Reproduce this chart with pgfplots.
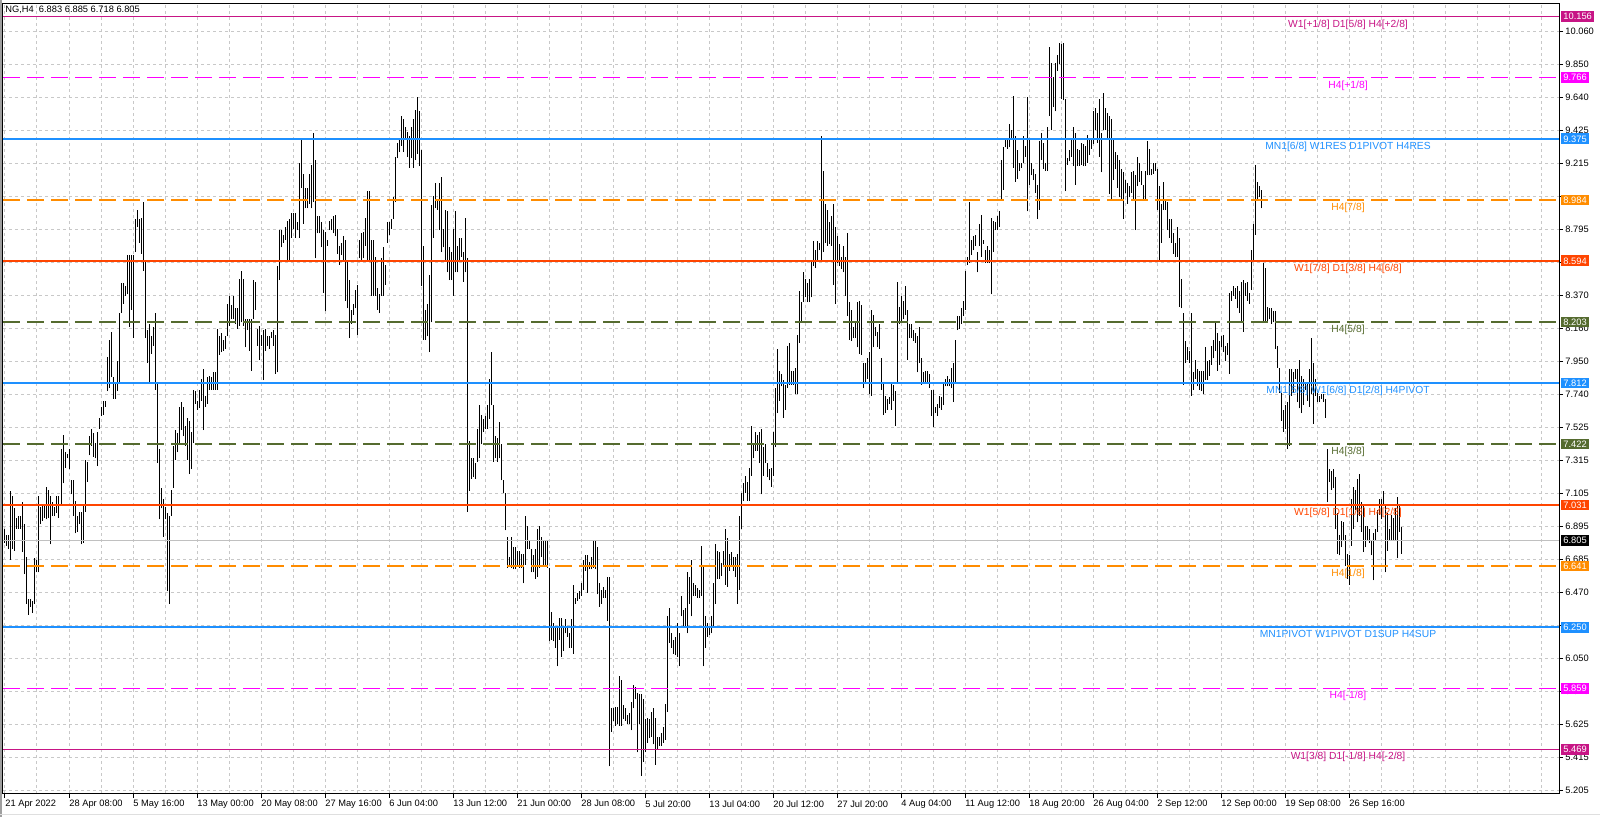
\documentclass[border=0pt]{standalone}
\usepackage{fontspec}
\setmainfont{Liberation Sans}
\usepackage{pgfplots}
\usepackage{pgfplotstable}
\pgfplotsset{compat=1.18}

\definecolor{mvred}{RGB}{199,21,133}
\definecolor{mag}{RGB}{255,0,255}
\definecolor{dblue}{RGB}{30,144,255}
\definecolor{dorange}{RGB}{255,140,0}
\definecolor{ored}{RGB}{255,69,0}
\definecolor{olive}{RGB}{85,107,47}
\definecolor{silv}{RGB}{192,192,192}
\definecolor{gridc}{RGB}{200,200,200}

\newcommand{\tf}{\fontsize{4.65pt}{5pt}\selectfont}
\newcommand{\lf}{\fontsize{5.15pt}{6pt}\selectfont}

% NG H4 bars: x position (px), low, high
\pgfplotstableread{
x lo hi
5 6.79 6.88
7 6.77 6.84
9 6.75 6.84
11 6.68 7.12
13 6.75 7.09
15 6.74 7.01
17 6.88 6.95
19 6.88 6.96
21 6.88 6.96
23 6.73 7.05
25 6.59 6.91
27 6.40 6.70
29 6.33 6.43
31 6.38 6.43
33 6.34 6.42
35 6.40 6.69
37 6.60 6.68
39 6.60 7.09
41 6.91 7.02
43 6.93 7.04
45 6.95 7.04
47 6.94 7.15
49 6.95 7.13
51 6.78 7.09
53 6.96 7.05
55 6.96 7.02
57 6.98 7.09
59 6.95 7.09
61 7.04 7.39
63 7.17 7.48
65 7.27 7.37
67 7.33 7.36
69 7.26 7.39
71 7.10 7.19
73 6.96 7.19
75 6.85 7.06
77 6.86 6.96
79 6.91 6.99
81 6.78 6.99
83 6.79 7.04
85 6.99 7.32
87 7.18 7.31
89 7.35 7.47
91 7.41 7.52
93 7.34 7.49
95 7.33 7.43
97 7.28 7.50
99 7.52 7.59
101 7.60 7.66
103 7.61 7.70
105 7.66 7.70
107 7.76 7.98
109 7.78 8.09
111 7.85 8.14
113 7.71 7.85
115 7.71 7.81
117 7.76 7.95
119 7.81 8.26
121 8.26 8.45
123 8.32 8.45
125 8.37 8.43
127 8.38 8.63
129 8.17 8.63
131 8.28 8.63
133 8.10 8.63
135 8.65 8.86
137 8.81 8.92
139 8.71 8.86
141 8.64 8.87
143 8.53 8.97
145 8.10 8.60
147 7.94 8.15
149 7.81 8.19
151 8.00 8.11
153 8.05 8.17
155 7.77 8.26
157 7.30 7.81
159 6.94 7.39
161 7.01 7.14
163 6.83 7.07
165 6.94 7.02
167 6.48 6.98
169 6.40 6.96
171 6.96 7.13
173 7.14 7.41
175 7.32 7.51
177 7.37 7.49
179 7.43 7.66
181 7.51 7.69
183 7.47 7.66
185 7.41 7.54
187 7.32 7.59
189 7.23 7.57
191 7.26 7.50
193 7.43 7.77
195 7.68 7.76
197 7.64 7.70
199 7.65 7.77
201 7.70 7.84
203 7.51 7.90
205 7.66 7.73
207 7.68 7.85
209 7.77 7.86
211 7.77 7.85
213 7.77 7.88
215 7.77 7.88
217 7.77 8.16
219 7.99 8.11
221 8.01 8.13
223 8.02 8.09
225 8.03 8.11
227 8.11 8.32
229 8.18 8.37
231 8.22 8.31
233 8.22 8.37
235 8.19 8.29
237 8.16 8.29
239 8.18 8.48
241 8.20 8.53
243 8.18 8.48
245 8.04 8.22
247 8.15 8.22
249 8.02 8.22
251 7.89 8.22
253 8.22 8.47
255 8.28 8.46
257 8.05 8.16
259 7.96 8.18
261 8.05 8.12
263 7.83 8.15
265 8.02 8.16
267 8.05 8.11
269 8.03 8.11
271 8.10 8.14
273 8.05 8.15
275 7.87 8.12
277 7.88 8.56
279 8.47 8.79
281 8.68 8.79
283 8.71 8.76
285 8.73 8.81
287 8.60 8.85
289 8.60 8.86
291 8.74 8.90
293 8.80 8.90
295 8.74 8.90
297 8.79 8.84
299 8.74 9.22
301 9.06 9.37
303 8.83 9.15
305 8.93 9.06
307 8.93 9.06
309 8.96 9.15
311 8.93 9.21
313 8.97 9.41
315 8.61 9.24
317 8.77 8.88
319 8.77 8.88
321 8.68 8.84
323 8.39 8.79
325 8.27 8.78
327 8.69 8.73
329 8.79 8.85
331 8.79 8.86
333 8.77 8.88
335 8.75 8.89
337 8.64 8.80
339 8.57 8.69
341 8.63 8.71
343 8.59 8.75
345 8.34 8.73
347 8.29 8.59
349 8.10 8.47
351 8.19 8.28
353 8.25 8.32
355 8.29 8.41
357 8.12 8.44
359 8.61 8.73
361 8.60 8.77
363 8.61 8.78
365 8.69 8.87
367 8.60 9.04
369 8.60 9.04
371 8.37 8.73
373 8.37 8.73
375 8.37 8.62
377 8.28 8.42
379 8.26 8.38
381 8.37 8.61
383 8.37 8.68
385 8.44 8.57
387 8.71 8.84
389 8.76 8.84
391 8.80 8.86
393 8.86 9.00
395 8.97 9.26
397 9.25 9.35
399 9.29 9.38
401 9.33 9.52
403 9.29 9.50
405 9.37 9.45
407 9.26 9.42
409 9.19 9.39
411 9.25 9.45
413 9.19 9.50
415 9.24 9.56
417 9.28 9.64
419 9.20 9.55
421 8.43 9.30
423 8.09 8.69
425 8.09 8.28
427 8.11 8.32
429 8.01 8.50
431 8.20 8.95
433 8.74 9.01
435 8.93 9.09
437 8.92 8.98
439 8.79 9.09
441 8.65 9.13
443 8.68 8.80
445 8.60 8.92
447 8.52 8.91
449 8.47 8.68
451 8.47 8.65
453 8.37 8.80
455 8.52 8.91
457 8.52 8.69
459 8.60 8.74
461 8.62 8.74
463 8.46 8.65
465 8.52 8.87
467 6.99 8.61
469 7.12 7.44
471 7.20 7.33
473 7.21 7.33
475 7.20 7.30
477 7.31 7.52
479 7.33 7.67
481 7.42 7.61
483 7.50 7.58
485 7.52 7.60
487 7.52 7.67
489 7.58 7.84
491 7.67 8.01
493 7.31 7.67
495 7.33 7.47
497 7.31 7.46
499 7.33 7.56
501 7.19 7.42
503 7.11 7.19
505 6.87 7.11
507 6.63 6.83
509 6.65 6.70
511 6.63 6.83
513 6.62 6.76
515 6.62 6.76
517 6.65 6.74
519 6.63 6.74
521 6.63 6.72
523 6.53 6.72
525 6.65 6.96
527 6.75 6.90
529 6.75 6.81
531 6.60 6.75
533 6.60 6.71
535 6.56 6.75
537 6.57 6.88
539 6.63 6.90
541 6.70 6.83
543 6.65 6.80
545 6.65 6.81
547 6.63 6.81
549 6.16 6.63
551 6.17 6.35
553 6.16 6.28
555 6.12 6.25
557 6.00 6.25
559 6.17 6.31
561 6.06 6.31
563 6.10 6.25
565 6.21 6.30
567 6.19 6.25
569 6.12 6.21
571 6.12 6.30
573 6.08 6.52
575 6.40 6.44
577 6.42 6.47
579 6.43 6.48
581 6.45 6.53
583 6.49 6.68
585 6.61 6.71
587 6.47 6.71
589 6.62 6.67
591 6.62 6.70
593 6.63 6.80
595 6.62 6.81
597 6.46 6.76
599 6.38 6.53
601 6.40 6.49
603 6.44 6.51
605 6.44 6.49
607 6.29 6.57
609 5.36 6.57
611 5.58 5.73
613 5.65 5.73
615 5.62 5.74
617 5.63 5.74
619 5.62 5.94
621 5.62 5.91
623 5.66 5.75
625 5.65 5.73
627 5.63 5.69
629 5.63 5.70
631 5.59 5.77
633 5.73 5.88
635 5.79 5.87
637 5.45 5.83
639 5.63 5.82
641 5.30 5.82
643 5.39 5.79
645 5.45 5.66
647 5.51 5.67
649 5.54 5.66
651 5.55 5.71
653 5.50 5.73
655 5.37 5.67
657 5.47 5.55
659 5.49 5.55
661 5.49 5.57
663 5.51 5.61
665 5.53 5.76
667 5.71 6.32
669 6.15 6.37
671 6.12 6.21
673 6.08 6.17
675 6.07 6.19
677 6.06 6.28
679 6.00 6.21
681 6.32 6.45
683 6.25 6.36
685 6.25 6.37
687 6.21 6.60
689 6.40 6.57
691 6.32 6.68
693 6.45 6.53
695 6.45 6.52
697 6.44 6.50
699 6.44 6.49
701 6.45 6.77
703 6.00 6.65
705 6.12 6.32
707 6.19 6.28
709 6.20 6.25
711 6.21 6.32
713 6.25 6.53
715 6.40 6.78
717 6.56 6.74
719 6.56 6.73
721 6.58 6.66
723 6.64 6.74
725 6.52 6.88
727 6.51 6.82
729 6.61 6.72
731 6.64 6.73
733 6.61 6.70
735 6.57 6.70
737 6.40 6.72
739 6.49 6.96
741 6.88 7.11
743 7.06 7.17
745 7.11 7.22
747 7.06 7.18
749 7.06 7.27
751 7.22 7.54
753 7.33 7.42
755 7.38 7.50
757 7.38 7.48
759 7.30 7.50
761 7.10 7.52
763 7.22 7.40
765 7.30 7.42
767 7.21 7.30
769 7.19 7.26
771 7.15 7.27
773 7.22 7.50
775 7.40 7.78
777 7.62 8.03
779 7.70 7.89
781 7.79 7.87
783 7.59 7.83
785 7.64 7.80
787 7.78 8.05
789 7.80 8.07
791 7.80 7.89
793 7.80 7.89
795 7.74 7.91
797 7.74 8.12
799 8.07 8.40
801 8.20 8.33
803 8.33 8.52
805 8.36 8.48
807 8.33 8.45
809 8.33 8.48
811 8.36 8.60
813 8.56 8.72
815 8.55 8.66
817 8.60 8.72
819 8.66 8.71
821 8.60 9.39
823 8.65 9.17
825 8.71 8.96
827 8.69 8.92
829 8.70 8.84
831 8.69 8.88
833 8.44 8.96
835 8.32 8.81
837 8.58 8.75
839 8.56 8.70
841 8.54 8.62
843 8.52 8.69
845 8.37 8.62
847 8.24 8.77
849 8.09 8.33
851 8.08 8.28
853 8.10 8.17
855 8.10 8.21
857 8.04 8.33
859 8.00 8.34
861 7.99 8.31
863 7.78 7.94
865 7.81 7.94
867 7.84 7.97
869 7.74 8.01
871 7.73 8.28
873 8.04 8.25
875 8.11 8.17
877 8.04 8.14
879 8.03 8.19
881 7.77 7.97
883 7.61 7.81
885 7.62 7.73
887 7.64 7.71
889 7.68 7.72
891 7.64 7.81
893 7.70 7.80
895 7.54 7.76
897 7.81 8.46
899 8.19 8.30
901 8.21 8.37
903 8.22 8.34
905 8.25 8.43
907 7.96 8.28
909 8.10 8.19
911 8.10 8.19
913 8.08 8.15
915 8.07 8.13
917 7.88 8.11
919 7.94 8.17
921 7.80 7.97
923 7.82 7.88
925 7.81 7.89
927 7.82 7.89
929 7.78 7.87
931 7.60 7.77
933 7.53 7.77
935 7.62 7.66
937 7.60 7.68
939 7.65 7.73
941 7.64 7.72
943 7.67 7.82
945 7.79 7.84
947 7.79 7.86
949 7.79 7.84
951 7.78 7.91
953 7.69 7.94
955 7.81 8.09
957 8.15 8.24
959 8.16 8.24
961 8.19 8.29
963 8.24 8.34
965 8.28 8.53
967 8.57 8.62
969 8.58 8.97
971 8.63 8.73
973 8.66 8.75
975 8.69 8.76
977 8.52 8.65
979 8.69 8.83
981 8.62 8.89
983 8.70 8.73
985 8.58 8.66
987 8.58 8.69
989 8.58 8.66
991 8.38 8.87
993 8.65 8.85
995 8.79 8.84
997 8.79 8.88
999 8.81 8.91
1001 8.98 9.24
1003 9.05 9.32
1005 9.32 9.38
1007 9.31 9.37
1009 9.32 9.47
1011 9.37 9.43
1013 9.19 9.65
1015 9.10 9.39
1017 9.12 9.30
1019 9.17 9.22
1021 9.19 9.22
1023 9.22 9.39
1025 9.26 9.33
1027 8.91 9.64
1029 9.08 9.37
1031 9.14 9.22
1033 9.11 9.18
1035 9.03 9.15
1037 8.86 9.08
1039 8.92 9.36
1041 9.24 9.41
1043 9.18 9.35
1045 9.17 9.22
1047 9.17 9.45
1049 9.52 9.96
1051 9.43 9.86
1053 9.58 9.77
1055 9.55 9.86
1057 9.81 9.91
1059 9.85 9.99
1061 9.63 9.98
1063 9.62 9.99
1065 9.04 9.63
1067 9.21 9.25
1069 9.23 9.30
1071 9.26 9.38
1073 9.20 9.45
1075 9.08 9.41
1077 9.20 9.31
1079 9.20 9.30
1081 9.21 9.35
1083 9.20 9.34
1085 9.20 9.33
1087 9.22 9.40
1089 9.27 9.37
1091 9.31 9.37
1093 9.34 9.55
1095 9.43 9.57
1097 9.35 9.54
1099 9.26 9.63
1101 9.16 9.41
1103 9.43 9.67
1105 9.43 9.57
1107 9.37 9.54
1109 9.02 9.52
1111 8.98 9.50
1113 9.11 9.37
1115 9.18 9.29
1117 9.06 9.27
1119 9.00 9.24
1121 8.99 9.18
1123 8.86 9.16
1125 9.03 9.11
1127 8.96 9.09
1129 9.00 9.07
1131 9.03 9.16
1133 8.99 9.17
1135 8.79 9.14
1137 9.07 9.26
1139 9.10 9.22
1141 9.08 9.17
1143 8.99 9.08
1145 8.99 9.17
1147 9.14 9.36
1149 9.14 9.31
1151 9.14 9.18
1153 9.15 9.22
1155 9.17 9.22
1157 8.92 9.18
1159 8.60 9.07
1161 8.71 8.96
1163 8.92 9.10
1165 8.92 8.99
1167 8.79 8.97
1169 8.74 8.86
1171 8.71 8.86
1173 8.64 8.77
1175 8.62 8.71
1177 8.62 8.81
1179 8.30 8.74
1181 8.29 8.48
1183 7.80 8.26
1185 7.94 8.08
1187 7.96 8.04
1189 7.94 8.02
1191 7.73 8.26
1193 7.77 7.88
1195 7.84 7.96
1197 7.79 7.90
1199 7.77 7.89
1201 7.76 7.89
1203 7.74 7.89
1205 7.83 8.04
1207 7.83 7.95
1209 7.86 7.96
1211 7.93 8.05
1213 7.97 8.09
1215 8.02 8.20
1217 7.89 8.13
1219 7.93 8.08
1221 8.04 8.11
1223 8.01 8.12
1225 7.95 8.05
1227 7.99 8.07
1229 7.87 8.39
1231 8.34 8.40
1233 8.37 8.43
1235 8.35 8.42
1237 8.29 8.43
1239 8.26 8.40
1241 8.20 8.46
1243 8.14 8.47
1245 8.37 8.45
1247 8.34 8.46
1249 8.32 8.39
1251 8.41 8.66
1253 8.59 8.83
1255 8.76 9.21
1257 8.99 9.10
1259 9.00 9.07
1261 8.93 9.05
1263 8.20 8.58
1265 8.20 8.55
1267 8.21 8.30
1269 8.22 8.29
1271 8.19 8.29
1273 8.20 8.27
1275 8.03 8.27
1277 7.91 8.05
1279 7.75 7.91
1281 7.57 7.75
1283 7.50 7.64
1285 7.52 7.67
1287 7.39 7.69
1289 7.41 7.90
1291 7.73 7.90
1293 7.75 7.88
1295 7.84 7.90
1297 7.69 7.90
1299 7.65 7.96
1301 7.62 7.86
1303 7.67 7.84
1305 7.77 7.82
1307 7.70 7.82
1309 7.66 7.90
1311 7.74 8.10
1313 7.55 7.94
1315 7.73 7.84
1317 7.69 7.75
1319 7.69 7.73
1321 7.71 7.74
1323 7.69 7.74
1325 7.59 7.71
1327 7.05 7.39
1329 7.18 7.26
1331 7.13 7.25
1333 7.14 7.26
1335 6.88 7.21
1337 6.72 6.98
1339 6.71 6.84
1341 6.76 6.93
1343 6.80 6.92
1345 6.64 6.84
1347 6.56 6.72
1349 6.52 6.71
1351 6.77 7.07
1353 6.88 7.15
1355 7.00 7.13
1357 6.92 7.20
1359 6.96 7.23
1361 6.86 7.05
1363 6.73 7.04
1365 6.76 6.90
1367 6.81 6.90
1369 6.79 6.88
1371 6.71 6.81
1373 6.55 6.85
1375 6.81 6.88
1377 6.86 7.00
1379 6.97 7.07
1381 6.94 7.07
1383 7.03 7.12
1385 6.60 7.03
1387 6.74 6.98
1389 6.81 6.88
1391 6.81 6.97
1393 6.81 6.95
1395 6.80 7.01
1397 6.69 7.08
1399 6.86 7.03
1401 6.72 6.89
}\bars

\begin{document}
\begin{tikzpicture}[x=1pt,y=1pt]
\useasboundingbox (0,0) rectangle (800,408.5);
\fill[gray!75] (0,0) rectangle (1,408.5);
\draw[gray!25, line width=0.5pt] (0,1.3) -- (800,1.3);
\begin{axis}[
  at={(1.5pt,11.5pt)}, anchor=south west,
  scale only axis, width=778pt, height=395pt,
  xmin=3, xmax=1559, ymin=5.183, ymax=10.237,
  axis line style={black, line width=0.5pt},
  tick align=outside, major tick length=2pt, minor tick length=0pt,
  tick style={black, line width=0.5pt},
  xtick pos=left, ytick pos=right, yticklabel pos=right,
  xtick={5,69,...,1349},
  xticklabels={21 Apr 2022,28 Apr 08:00,5 May 16:00,13 May 00:00,20 May 08:00,27 May 16:00,6 Jun 04:00,13 Jun 12:00,21 Jun 00:00,28 Jun 08:00,5 Jul 20:00,13 Jul 04:00,20 Jul 12:00,27 Jul 20:00,4 Aug 04:00,11 Aug 12:00,18 Aug 20:00,26 Aug 04:00,2 Sep 12:00,12 Sep 00:00,19 Sep 08:00,26 Sep 16:00},
  minor xtick={5,37,...,1541},
  ytick={10.060,9.849,9.638,9.427,9.216,9.005,8.793,8.582,8.371,8.160,7.949,7.738,7.527,7.316,7.105,6.894,6.683,6.471,6.260,6.049,5.838,5.627,5.416,5.205},
  yticklabels={10.060,9.850,9.640,9.425,9.215,,8.795,,8.370,8.160,7.950,7.740,7.525,7.315,7.105,6.895,6.685,6.470,,6.050,5.840,5.625,5.415,5.205},
  xminorgrids, ymajorgrids,
  minor grid style={gridc, line width=0.5pt, dash pattern=on 1.5pt off 1.5pt},
  major grid style={gridc, line width=0.5pt, dash pattern=on 1.5pt off 1.5pt},
  xticklabel style={font=\tf, anchor=north west, inner sep=0pt, yshift=-1pt},
  yticklabel style={font=\tf, anchor=west, inner sep=0pt, xshift=1pt},
]
% price bars (high-low)
\addplot[draw=none, mark=none, forget plot,
  error bars/.cd, y dir=plus, y explicit, error mark=none,
  error bar style={draw=black, solid, line width=0.5pt}]
  table[x=x, y=lo, y error expr=\thisrow{hi}-\thisrow{lo}] {\bars};

% current price line
\addplot[silv, line width=0.6pt] coordinates {(3,6.805) (1559,6.805)};
% murrey / pivot levels
\addplot[mvred, line width=0.75pt] coordinates {(3,10.156) (1559,10.156)};
\addplot[mag, line width=0.75pt, dash pattern=on 8.5pt off 3.5pt] coordinates {(3,9.766) (1559,9.766)};
\addplot[dblue, line width=1pt] coordinates {(3,9.375) (1559,9.375)};
\addplot[dorange, line width=0.75pt, dash pattern=on 8.5pt off 3.5pt] coordinates {(3,8.984) (1559,8.984)};
\addplot[ored, line width=0.75pt] coordinates {(3,8.594) (1559,8.594)};
\addplot[olive, line width=0.7pt, dash pattern=on 8.5pt off 3.5pt] coordinates {(3,8.203) (1559,8.203)};
\addplot[dblue, line width=1pt] coordinates {(3,7.812) (1559,7.812)};
\addplot[olive, line width=0.7pt, dash pattern=on 8.5pt off 3.5pt] coordinates {(3,7.422) (1559,7.422)};
\addplot[ored, line width=0.75pt] coordinates {(3,7.031) (1559,7.031)};
\addplot[dorange, line width=0.75pt, dash pattern=on 8.5pt off 3.5pt] coordinates {(3,6.641) (1559,6.641)};
\addplot[dblue, line width=1pt] coordinates {(3,6.250) (1559,6.250)};
\addplot[mag, line width=0.75pt, dash pattern=on 8.5pt off 3.5pt] coordinates {(3,5.859) (1559,5.859)};
\addplot[mvred, line width=0.75pt] coordinates {(3,5.469) (1559,5.469)};

\begin{scope}[every node/.style={font=\lf, anchor=base, inner sep=0pt, yshift=-5.3pt}]
\node[text=mvred] at (axis cs:1348,10.156) {W1[+1/8] D1[5/8] H4[+2/8]};
\node[text=mag] at (axis cs:1348,9.766) {H4[+1/8]};
\node[text=dblue] at (axis cs:1348,9.375) {MN1[6/8] W1RES D1PIVOT H4RES};
\node[text=dorange] at (axis cs:1348,8.984) {H4[7/8]};
\node[text=ored] at (axis cs:1348,8.594) {W1[7/8] D1[3/8] H4[6/8]};
\node[text=olive] at (axis cs:1348,8.203) {H4[5/8]};
\node[text=dblue] at (axis cs:1348,7.812) {MN1[5/8] W1[6/8] D1[2/8] H4PIVOT};
\node[text=olive] at (axis cs:1348,7.422) {H4[3/8]};
\node[text=ored] at (axis cs:1348,7.031) {W1[5/8] D1[1/8] H4[2/8]};
\node[text=dorange] at (axis cs:1348,6.641) {H4[1/8]};
\node[text=dblue] at (axis cs:1348,6.250) {MN1PIVOT W1PIVOT D1SUP H4SUP};
\node[text=mag] at (axis cs:1348,5.859) {H4[-1/8]};
\node[text=mvred] at (axis cs:1348,5.469) {W1[3/8] D1[-1/8] H4[-2/8]};
\end{scope}

\node[font=\tf, anchor=west, inner sep=0pt] at (axis cs:5,10.199) {NG,H4\ \ 6.883 6.885 6.718 6.805};

\coordinate (L1) at (axis cs:1559,10.156);
\coordinate (L2) at (axis cs:1559,9.766);
\coordinate (L3) at (axis cs:1559,9.375);
\coordinate (L4) at (axis cs:1559,8.984);
\coordinate (L5) at (axis cs:1559,8.594);
\coordinate (L6) at (axis cs:1559,8.203);
\coordinate (L7) at (axis cs:1559,7.812);
\coordinate (L8) at (axis cs:1559,7.422);
\coordinate (L9) at (axis cs:1559,7.031);
\coordinate (L10) at (axis cs:1559,6.641);
\coordinate (L11) at (axis cs:1559,6.250);
\coordinate (L12) at (axis cs:1559,5.859);
\coordinate (L13) at (axis cs:1559,5.469);
\coordinate (L14) at (axis cs:1559,6.805);
\end{axis}

\begin{scope}[every node/.style={anchor=west, xshift=1pt, text=white, font=\tf, inner xsep=1pt, inner ysep=1pt, text height=3.33pt, text depth=0pt}]
\node[fill=mvred] at (L1) {10.156};
\node[fill=mag] at (L2) {9.766};
\node[fill=dblue] at (L3) {9.375};
\node[fill=dorange] at (L4) {8.984};
\node[fill=ored] at (L5) {8.594};
\node[fill=olive] at (L6) {8.203};
\node[fill=dblue] at (L7) {7.812};
\node[fill=olive] at (L8) {7.422};
\node[fill=ored] at (L9) {7.031};
\node[fill=dorange] at (L10) {6.641};
\node[fill=dblue] at (L11) {6.250};
\node[fill=mag] at (L12) {5.859};
\node[fill=mvred] at (L13) {5.469};
\node[fill=black] at (L14) {6.805};
\end{scope}
\end{tikzpicture}
\end{document}
